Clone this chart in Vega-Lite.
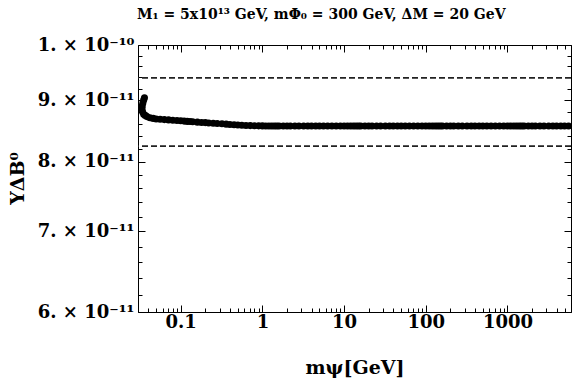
{
  "$schema": "https://vega.github.io/schema/vega-lite/v6.json",
  "autosize": "none",
  "width": 433,
  "height": 267,
  "padding": {"left": 138, "top": 45, "right": 5, "bottom": 70},
  "background": "white",
  "config": {
    "view": {"stroke": "black", "strokeWidth": 1},
    "axis": {"domain": false, "grid": false, "labelOverlap": false, "labelColor": "black", "titleColor": "black", "labelFont": "DejaVu Serif", "labelFontWeight": "bold", "labelFontSize": 18, "titleFont": "DejaVu Serif", "titleFontWeight": "bold", "titleFontSize": 19}
  },
  "title": {
    "text": "M₁ = 5x10¹³ GeV,  mΦ₀ = 300 GeV, ΔM = 20 GeV",
    "anchor": "start",
    "frame": "group",
    "dx": -1,
    "offset": 14,
    "font": "DejaVu Serif",
    "fontWeight": "bold",
    "fontSize": 14,
    "color": "black"
  },
  "datasets": {
    "curve": [
      {"x": 0.0360, "y": 9.04e-11},
      {"x": 0.0352, "y": 9.00e-11},
      {"x": 0.0344, "y": 8.95e-11},
      {"x": 0.0338, "y": 8.90e-11},
      {"x": 0.0336, "y": 8.85e-11},
      {"x": 0.0341, "y": 8.80e-11},
      {"x": 0.0352, "y": 8.76e-11},
      {"x": 0.0368, "y": 8.74e-11},
      {"x": 0.0386, "y": 8.72e-11},
      {"x": 0.042, "y": 8.70e-11},
      {"x": 0.046, "y": 8.69e-11},
      {"x": 0.050, "y": 8.68e-11},
      {"x": 0.056, "y": 8.675e-11},
      {"x": 0.063, "y": 8.67e-11},
      {"x": 0.071, "y": 8.665e-11},
      {"x": 0.080, "y": 8.66e-11},
      {"x": 0.090, "y": 8.655e-11},
      {"x": 0.10, "y": 8.65e-11},
      {"x": 0.11, "y": 8.645e-11},
      {"x": 0.12, "y": 8.64e-11},
      {"x": 0.13, "y": 8.637e-11},
      {"x": 0.14, "y": 8.633e-11},
      {"x": 0.16, "y": 8.628e-11},
      {"x": 0.18, "y": 8.623e-11},
      {"x": 0.20, "y": 8.62e-11},
      {"x": 0.22, "y": 8.615e-11},
      {"x": 0.25, "y": 8.61e-11},
      {"x": 0.28, "y": 8.605e-11},
      {"x": 0.32, "y": 8.60e-11},
      {"x": 0.36, "y": 8.595e-11},
      {"x": 0.40, "y": 8.59e-11},
      {"x": 0.45, "y": 8.585e-11},
      {"x": 0.50, "y": 8.58e-11},
      {"x": 0.56, "y": 8.577e-11},
      {"x": 0.63, "y": 8.574e-11},
      {"x": 0.71, "y": 8.571e-11},
      {"x": 0.80, "y": 8.569e-11},
      {"x": 0.90, "y": 8.567e-11},
      {"x": 1.0, "y": 8.566e-11},
      {"x": 1.1, "y": 8.565e-11},
      {"x": 1.2, "y": 8.565e-11},
      {"x": 1.3, "y": 8.565e-11},
      {"x": 1.4, "y": 8.565e-11},
      {"x": 1.5, "y": 8.565e-11},
      {"x": 1.6, "y": 8.565e-11},
      {"x": 1.8, "y": 8.565e-11},
      {"x": 2.0, "y": 8.565e-11},
      {"x": 2.2, "y": 8.565e-11},
      {"x": 2.5, "y": 8.565e-11},
      {"x": 2.8, "y": 8.565e-11},
      {"x": 3.2, "y": 8.565e-11},
      {"x": 3.6, "y": 8.565e-11},
      {"x": 4.0, "y": 8.565e-11},
      {"x": 4.5, "y": 8.565e-11},
      {"x": 5.0, "y": 8.565e-11},
      {"x": 5.6, "y": 8.565e-11},
      {"x": 6.3, "y": 8.565e-11},
      {"x": 7.1, "y": 8.565e-11},
      {"x": 8.0, "y": 8.565e-11},
      {"x": 9.0, "y": 8.565e-11},
      {"x": 10, "y": 8.565e-11},
      {"x": 11, "y": 8.565e-11},
      {"x": 12, "y": 8.565e-11},
      {"x": 13, "y": 8.565e-11},
      {"x": 14, "y": 8.565e-11},
      {"x": 15, "y": 8.565e-11},
      {"x": 16, "y": 8.565e-11},
      {"x": 18, "y": 8.565e-11},
      {"x": 20, "y": 8.565e-11},
      {"x": 22, "y": 8.565e-11},
      {"x": 25, "y": 8.565e-11},
      {"x": 28, "y": 8.565e-11},
      {"x": 32, "y": 8.565e-11},
      {"x": 36, "y": 8.565e-11},
      {"x": 40, "y": 8.565e-11},
      {"x": 45, "y": 8.565e-11},
      {"x": 50, "y": 8.565e-11},
      {"x": 56, "y": 8.565e-11},
      {"x": 63, "y": 8.565e-11},
      {"x": 71, "y": 8.565e-11},
      {"x": 80, "y": 8.565e-11},
      {"x": 90, "y": 8.565e-11},
      {"x": 100, "y": 8.565e-11},
      {"x": 110, "y": 8.565e-11},
      {"x": 120, "y": 8.565e-11},
      {"x": 130, "y": 8.565e-11},
      {"x": 140, "y": 8.565e-11},
      {"x": 150, "y": 8.565e-11},
      {"x": 160, "y": 8.565e-11},
      {"x": 180, "y": 8.565e-11},
      {"x": 200, "y": 8.565e-11},
      {"x": 220, "y": 8.565e-11},
      {"x": 250, "y": 8.565e-11},
      {"x": 280, "y": 8.565e-11},
      {"x": 320, "y": 8.565e-11},
      {"x": 360, "y": 8.565e-11},
      {"x": 400, "y": 8.565e-11},
      {"x": 450, "y": 8.565e-11},
      {"x": 500, "y": 8.565e-11},
      {"x": 560, "y": 8.565e-11},
      {"x": 630, "y": 8.565e-11},
      {"x": 710, "y": 8.565e-11},
      {"x": 800, "y": 8.565e-11},
      {"x": 900, "y": 8.565e-11},
      {"x": 1000, "y": 8.565e-11},
      {"x": 1100, "y": 8.565e-11},
      {"x": 1200, "y": 8.565e-11},
      {"x": 1300, "y": 8.565e-11},
      {"x": 1400, "y": 8.565e-11},
      {"x": 1500, "y": 8.565e-11},
      {"x": 1600, "y": 8.565e-11},
      {"x": 1800, "y": 8.565e-11},
      {"x": 2000, "y": 8.565e-11},
      {"x": 2200, "y": 8.565e-11},
      {"x": 2500, "y": 8.565e-11},
      {"x": 2800, "y": 8.565e-11},
      {"x": 3200, "y": 8.565e-11},
      {"x": 3600, "y": 8.565e-11},
      {"x": 4000, "y": 8.565e-11},
      {"x": 4500, "y": 8.565e-11},
      {"x": 5000, "y": 8.565e-11},
      {"x": 5600, "y": 8.565e-11}
    ],
    "bounds": [
      {"y": 9.39e-11},
      {"y": 8.24e-11}
    ]
  },
  "resolve": {"axis": {"x": "independent", "y": "independent"}},
  "layer": [
    {
      "data": {"name": "curve"},
      "mark": {"type": "point", "filled": true, "color": "black", "opacity": 1, "size": 50},
      "encoding": {
        "x": {"field": "x", "type": "quantitative", "scale": {"type": "log", "domain": [0.03, 6000], "nice": false},
          "axis": {"orient": "bottom",
            "values": [0.03, 0.04, 0.05, 0.06, 0.07, 0.08, 0.09, 0.1, 0.2, 0.3, 0.4, 0.5, 0.6, 0.7, 0.8, 0.9, 1, 2, 3, 4, 5, 6, 7, 8, 9, 10, 20, 30, 40, 50, 60, 70, 80, 90, 100, 200, 300, 400, 500, 600, 700, 800, 900, 1000, 2000, 3000, 4000, 5000, 6000],
            "labelExpr": "indexof([0.1, 1, 10, 100, 1000], datum.value) >= 0 ? format(datum.value, '~g') : ''",
            "ticks": true, "tickColor": "black", "tickWidth": 1,
            "tickSize": {"condition": {"test": "indexof([0.1, 1, 10, 100, 1000], datum.value) >= 0", "value": -7}, "value": -4},
            "labelPadding": 8, "title": "mψ[GeV]", "titleY": 61, "titleBaseline": "alphabetic"}},
        "y": {"field": "y", "type": "quantitative", "scale": {"type": "log", "domain": [6e-11, 1e-10], "nice": false, "zero": false},
          "axis": {"orient": "left",
            "values": [6e-11, 6.2e-11, 6.4e-11, 6.6e-11, 6.8e-11, 7e-11, 7.2e-11, 7.4e-11, 7.6e-11, 7.8e-11, 8e-11, 8.2e-11, 8.4e-11, 8.6e-11, 8.8e-11, 9e-11, 9.2e-11, 9.4e-11, 9.6e-11, 9.8e-11, 1e-10],
            "labelExpr": "indexof([6e-11, 7e-11, 8e-11, 9e-11, 1e-10], datum.value) < 0 ? '' : datum.value > 9.95e-11 ? '1. × 10⁻¹⁰' : round(datum.value * 1e11) + '. × 10⁻¹¹'",
            "ticks": true, "tickColor": "black", "tickWidth": 1,
            "tickSize": {"condition": {"test": "indexof([6e-11, 7e-11, 8e-11, 9e-11, 1e-10], datum.value) >= 0", "value": -7}, "value": -4},
            "labelPadding": 11, "title": "YΔB⁰", "titleX": -121, "titleY": 133, "titleAngle": -90, "titleAlign": "center", "titleBaseline": "middle"}}
      }
    },
    {
      "data": {"name": "bounds"},
      "mark": {"type": "rule", "color": "#222222", "strokeWidth": 1.8, "strokeDash": [6, 3]},
      "encoding": {
        "y": {"field": "y", "type": "quantitative", "scale": {"type": "log", "domain": [6e-11, 1e-10], "nice": false, "zero": false}, "axis": null}
      }
    },
    {
      "data": {"name": "curve"},
      "mark": {"type": "point", "opacity": 0},
      "encoding": {
        "x": {"field": "x", "type": "quantitative", "scale": {"type": "log", "domain": [0.03, 6000], "nice": false},
          "axis": {"orient": "top",
            "values": [0.03, 0.04, 0.05, 0.06, 0.07, 0.08, 0.09, 0.1, 0.2, 0.3, 0.4, 0.5, 0.6, 0.7, 0.8, 0.9, 1, 2, 3, 4, 5, 6, 7, 8, 9, 10, 20, 30, 40, 50, 60, 70, 80, 90, 100, 200, 300, 400, 500, 600, 700, 800, 900, 1000, 2000, 3000, 4000, 5000, 6000],
            "labels": false, "ticks": true, "tickColor": "black", "tickWidth": 1,
            "tickSize": {"condition": {"test": "indexof([0.1, 1, 10, 100, 1000], datum.value) >= 0", "value": -7}, "value": -4},
            "title": null}},
        "y": {"field": "y", "type": "quantitative", "scale": {"type": "log", "domain": [6e-11, 1e-10], "nice": false, "zero": false},
          "axis": {"orient": "right",
            "values": [6e-11, 6.2e-11, 6.4e-11, 6.6e-11, 6.8e-11, 7e-11, 7.2e-11, 7.4e-11, 7.6e-11, 7.8e-11, 8e-11, 8.2e-11, 8.4e-11, 8.6e-11, 8.8e-11, 9e-11, 9.2e-11, 9.4e-11, 9.6e-11, 9.8e-11, 1e-10],
            "labels": false, "ticks": true, "tickColor": "black", "tickWidth": 1,
            "tickSize": {"condition": {"test": "indexof([6e-11, 7e-11, 8e-11, 9e-11, 1e-10], datum.value) >= 0", "value": -7}, "value": -4},
            "title": null}}
      }
    }
  ]
}
